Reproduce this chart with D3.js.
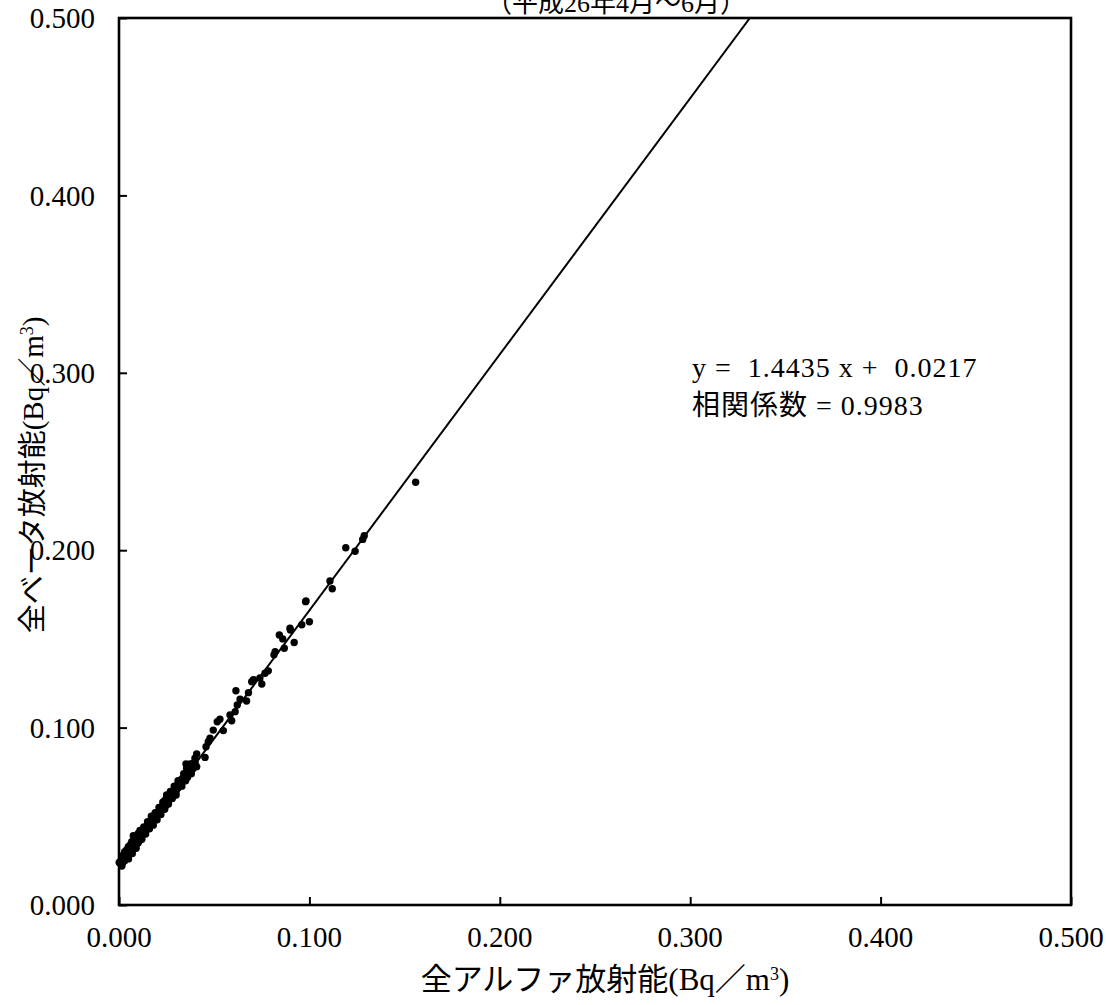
<!DOCTYPE html>
<html><head><meta charset="utf-8">
<script src="https://cdn.jsdelivr.net/npm/d3@7/dist/d3.min.js"></script>
<style>body{margin:0;background:#fff}svg{display:block}text{fill:#000}</style>
</head><body>
<svg id="c" width="1106" height="1005"></svg>
<script>
// Data (全アルファ x, 全ベータ y, Bq/m3)
const alphaX = [0.001,0.001,0.0015,0.002,0.002,0.0025,0.003,0.003,0.0035,0.004,0.004,0.0045,0.005,0.005,0.0055,0.006,0.006,0.0065,0.007,0.007,0.0075,0.008,0.008,0.0085,0.009,0.009,0.0095,0.010,0.010,0.0105,0.011,0.011,0.0115,0.012,0.012,0.0125,0.013,0.013,0.0135,0.014,0.014,0.0145,0.015,0.015,0.0155,0.016,0.016,0.0165,0.017,0.017,0.0175,0.018,0.018,0.0185,0.019,0.019,0.0195,0.020,0.020,0.0205,0.021,0.021,0.0215,0.022,0.022,0.0225,0.023,0.023,0.0235,0.024,0.024,0.0245,0.025,0.025,0.0255,0.026,0.026,0.027,0.027,0.028,0.028,0.029,0.029,0.030,0.030,0.031,0.031,0.032,0.032,0.033,0.033,0.034,0.034,0.035,0.036,0.036,0.037,0.038,0.038,0.039,0.040,0.0001,0.0014,0.0023,0.0032,0.0049,0.0067,0.0084,0.0101,0.0075,
0.002,0.003,0.004,0.005,0.006,0.007,0.008,0.009,0.010,0.011,0.012,0.013,0.014,0.015,0.016,0.017,0.018,0.019,0.020,0.021,0.022,0.023,0.024,0.025,0.026,0.027,0.028,0.029,0.030,0.031,0.033,0.034,0.035,0.037,0.038,0.039,
0.0408,0.0399,0.0408,0.0373,0.0352,0.0355,0.0452,0.0457,0.0469,0.0478,0.0495,0.0548,0.0516,0.053,0.0592,0.0583,0.061,0.0621,0.0614,0.0636,0.067,0.068,0.0697,0.0706,0.074,0.075,0.0767,0.0784,0.0814,0.082,0.0842,0.086,0.0868,0.090,0.092,0.096,0.098,0.100,0.0898,0.0982,0.1108,0.112,0.1191,0.124,0.128,0.1288,0.1558];
const betaY = [0.023,0.025,0.022,0.024,0.026,0.027,0.025,0.028,0.026,0.027,0.029,0.028,0.030,0.028,0.031,0.029,0.032,0.030,0.033,0.031,0.032,0.034,0.033,0.035,0.034,0.036,0.035,0.037,0.039,0.036,0.038,0.040,0.039,0.039,0.041,0.040,0.042,0.040,0.041,0.043,0.042,0.044,0.043,0.045,0.044,0.046,0.045,0.047,0.046,0.048,0.047,0.049,0.047,0.048,0.050,0.049,0.051,0.050,0.052,0.051,0.053,0.051,0.052,0.054,0.053,0.055,0.054,0.056,0.055,0.057,0.059,0.056,0.058,0.060,0.057,0.059,0.061,0.060,0.062,0.062,0.064,0.063,0.065,0.064,0.066,0.066,0.068,0.067,0.070,0.069,0.071,0.072,0.070,0.073,0.074,0.072,0.075,0.076,0.078,0.077,0.080,0.024,0.0225,0.0254,0.0291,0.0329,0.0357,0.0385,0.0404,0.039,
0.028,0.030,0.031,0.026,0.034,0.029,0.036,0.032,0.035,0.042,0.037,0.044,0.040,0.047,0.043,0.050,0.045,0.052,0.048,0.055,0.051,0.058,0.054,0.062,0.057,0.064,0.060,0.067,0.062,0.070,0.067,0.074,0.070,0.078,0.074,0.080,
0.0851,0.0827,0.078,0.0795,0.0795,0.077,0.0832,0.0892,0.092,0.094,0.0986,0.0983,0.1033,0.1047,0.1039,0.1071,0.109,0.1127,0.1208,0.116,0.115,0.1197,0.1259,0.127,0.128,0.1246,0.1306,0.132,0.141,0.1428,0.1522,0.150,0.1447,0.155,0.148,0.158,0.171,0.1597,0.156,0.1714,0.1826,0.1783,0.2014,0.1994,0.2061,0.2082,0.2383];
const ticks = [0, 0.1, 0.2, 0.3, 0.4, 0.5];
const slope = 1.4435, intercept = 0.0217, corr = 0.9983;
const titleText = "（平成26年4月～6月）";
const xTitle = "全アルファ放射能(Bq／m";
const yTitle = "全ベータ放射能(Bq／m";

const svg = d3.select("#c");
const L = 119, R = 1071, T = 18, B = 905;
const x = d3.scaleLinear().domain([0, 0.5]).range([L, R]);
const y = d3.scaleLinear().domain([0, 0.5]).range([B, T]);
const FONT = "'Liberation Serif','Noto Sans CJK JP',serif";
const fmt = d3.format(".3f");

svg.append("defs").append("clipPath").attr("id","pc")
  .append("rect").attr("x",L).attr("y",T).attr("width",R-L).attr("height",B-T);

// title (partly cut at top, as in the reference)
svg.append("text").attr("x",616).attr("y",12).attr("text-anchor","middle")
  .style("font-family",FONT).style("font-size","26px").text(titleText);

// points
const pts = alphaX.map((a,i)=>[a, betaY[i]]);
svg.append("g").selectAll("circle").data(pts).join("circle")
  .attr("cx",d=>x(d[0])).attr("cy",d=>y(d[1])).attr("r",3.7).attr("fill","#000");

// regression line
const lineData = [[0, intercept], [(0.5-intercept)/slope, 0.5]];
svg.append("path").attr("clip-path","url(#pc)")
  .attr("d", d3.line().x(d=>x(d[0])).y(d=>y(d[1]))(lineData))
  .attr("stroke","#000").attr("stroke-width",2).attr("fill","none");

// axes with inner ticks
const gx = svg.append("g").attr("transform",`translate(0,${B})`)
  .call(d3.axisBottom(x).tickValues(ticks).tickSizeInner(-8).tickSizeOuter(0).tickFormat(""));
const gy = svg.append("g").attr("transform",`translate(${L},0)`)
  .call(d3.axisLeft(y).tickValues(ticks).tickSizeInner(-8).tickSizeOuter(0).tickFormat(""));
[gx,gy].forEach(g=>{g.select(".domain").remove(); g.selectAll("line").attr("stroke","#000").attr("stroke-width",2);});

// frame
svg.append("rect").attr("x",L).attr("y",T).attr("width",R-L).attr("height",B-T)
  .attr("fill","none").attr("stroke","#000").attr("stroke-width",2.6);

// tick labels
svg.append("g").selectAll("text").data(ticks).join("text")
  .attr("x",d=>x(d)).attr("y",947).attr("text-anchor","middle")
  .style("font-family",FONT).style("font-size","29px").text(fmt);
svg.append("g").selectAll("text").data(ticks).join("text")
  .attr("x",95).attr("y",d=>y(d)).attr("dy","0.35em").attr("text-anchor","end")
  .style("font-family",FONT).style("font-size","29px").text(fmt);

// axis titles
function title(sel, txt){
  sel.append("tspan").text(txt);
  sel.append("tspan").style("font-size","18px").attr("dy",-10).text("3");
  sel.append("tspan").attr("dy",10).text(")");
}
svg.append("text").attr("x",605).attr("y",990).attr("text-anchor","middle")
  .style("font-family",FONT).style("font-size","31px").call(title, xTitle);
svg.append("text").attr("transform","translate(43,475) rotate(-90)").attr("text-anchor","middle")
  .style("font-family",FONT).style("font-size","29px").call(title, yTitle);

// equation
svg.append("text").attr("x",692).attr("y",377).style("white-space","pre")
  .style("font-family",FONT).style("font-size","28px").style("letter-spacing","1px")
  .text(`y =  ${slope.toFixed(4)} x +  ${intercept.toFixed(4)}`);
svg.append("text").attr("x",692).attr("y",415).style("white-space","pre")
  .style("font-family",FONT).style("font-size","28px").style("letter-spacing","1px")
  .text(`相関係数 = ${corr.toFixed(4)}`);
</script>
</body></html>
